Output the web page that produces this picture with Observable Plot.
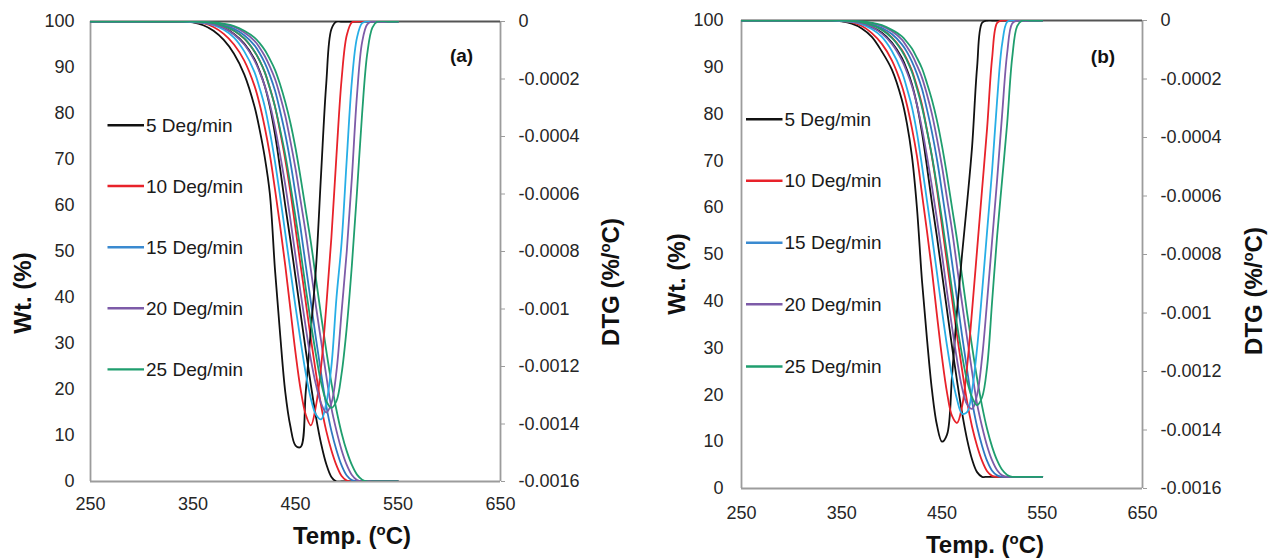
<!DOCTYPE html>
<html><head><meta charset="utf-8">
<script src="https://cdn.jsdelivr.net/npm/d3@7"></script>
<script src="https://cdn.jsdelivr.net/npm/@observablehq/plot@0.6"></script>
<style>
body{margin:0;background:#fff;}
#wrap{display:flex;width:1272px;height:558px;overflow:hidden;}
#wrap > div{width:636px;height:558px;}
</style></head><body><div id="wrap"><div id="pa"></div><div id="pb"></div></div>
<script>
// Temperature grid (°C) shared by all series
const temps = [250,300,340,350,360,370,380,390,400,410,415,420,425,430,435,440,445,450,455,460,465,470,475,480,485,490,495,500,505,510,515,520,525,530,540,550];

const rates = ["5 Deg/min","10 Deg/min","15 Deg/min","20 Deg/min","25 Deg/min"];
const tgColors  = ["#111111","#e8222a","#2f78c0","#7d5ba8","#1f9e6e"];
const dtgColors = ["#111111","#e8222a","#27aee6","#7d5ba8","#1f9e6e"];
const legendColors = ["#111111","#e8222a","#3a8ad0","#7d5ba8","#1f9e6e"];

const xTicks = [250,350,450,550,650];
const wtTicks = [0,10,20,30,40,50,60,70,80,90,100];
const dtgTicks = [0,-0.0002,-0.0004,-0.0006,-0.0008,-0.001,-0.0012,-0.0014,-0.0016];
const dtgUnit = 1e-4; // DTG arrays below are in units of 1e-4 %/°C

// ---- Panel (a) ----
const tgA5  = [100,100,100,99.9,99.7,99.3,98.6,97.3,95.2,91.8,89.2,86,81.5,75.5,68,60,52.5,44.5,36.5,28.5,21,14,8.2,3.8,1.0,0,0,0,0,0,0,0,0,0,0,0];
const tgA10 = [100,100,100,100,99.8,99.5,99,98,96.3,93.5,91.5,89,85.5,81.5,76,70,63,55,47,39,31,23.5,16.5,11,6.8,3.5,1.2,0.2,0,0,0,0,0,0,0,0];
const tgA15 = [100,100,100,100,99.8,99.6,99.2,98.4,97,94.8,93.1,91,88.3,85,80.5,75.5,69.5,62.5,55,47,39,31,23.5,16.5,11,6.8,3.5,1.3,0.3,0,0,0,0,0,0,0];
const tgA20 = [100,100,100,100,99.9,99.7,99.4,98.8,97.6,95.8,94.3,92.5,90.2,87.5,83.8,79.5,74,68,61,54,46,38,30.5,23,16,11,6.8,3.6,1.4,0.3,0,0,0,0,0,0];
const tgA25 = [100,100,100,100,99.9,99.8,99.5,99,98,96.5,95.3,93.8,91.8,89.5,86.3,82.5,78,72.5,66,59,52,44,36,28.5,21.5,15.5,10.5,6.6,3.6,1.5,0.4,0,0,0,0,0];
const dtgA5  = [0,0,0,-0.03,-0.13,-0.32,-0.64,-1.12,-1.84,-2.96,-3.76,-4.72,-6.0,-8.64,-10.88,-12.88,-14.08,-14.75,-14.8,-12.88,-10.72,-8.56,-5.28,-2.16,-0.27,0,0,0,0,0,0,0,0,0,0,0];
const dtgA10 = [0,0,0,-0.02,-0.06,-0.19,-0.43,-0.80,-1.36,-2.24,-2.88,-3.68,-4.64,-5.84,-7.12,-8.48,-10.0,-11.52,-12.8,-13.68,-14.05,-13.36,-12.0,-9.92,-7.52,-4.64,-2.0,-0.48,-0.03,0,0,0,0,0,0,0];
const dtgA15 = [0,0,0,-0.02,-0.05,-0.13,-0.29,-0.56,-1.04,-1.76,-2.32,-2.96,-3.84,-4.88,-6.08,-7.36,-8.64,-9.92,-11.12,-12.24,-13.12,-13.68,-13.84,-13.28,-12.0,-9.6,-7.68,-4.8,-2.08,-0.56,-0.06,0,0,0,0,0];
const dtgA20 = [0,0,0,0,-0.03,-0.10,-0.22,-0.45,-0.80,-1.36,-1.76,-2.24,-2.88,-3.68,-4.64,-5.68,-6.88,-8.16,-9.44,-10.64,-11.76,-12.64,-13.28,-13.6,-13.28,-12.16,-10.08,-8.0,-5.44,-2.56,-0.72,-0.10,0,0,0,0];
const dtgA25 = [0,0,0,0,-0.02,-0.06,-0.16,-0.32,-0.59,-1.04,-1.36,-1.76,-2.32,-2.96,-3.76,-4.64,-5.68,-6.8,-8.0,-9.28,-10.48,-11.6,-12.56,-13.2,-13.44,-13.2,-12.24,-10.64,-8.48,-5.92,-3.2,-1.12,-0.21,0,0,0];

// ---- Panel (b) ----
const tgB5  = [100,100,100,99.9,99.7,99.3,98.6,97.4,95.3,92.0,89.5,86.4,82.0,76.1,68.8,61.0,53.7,45.9,38.1,30.3,23.0,16.2,10.5,6.2,3.5,2.5,2.5,2.5,2.5,2.5,2.5,2.5,2.5,2.5,2.5,2.5];
const tgB10 = [100,100,100,100,99.8,99.5,99.0,98.1,96.4,93.7,91.7,89.3,85.9,82.0,76.6,70.8,63.9,56.1,48.3,40.5,32.7,25.4,18.6,13.2,9.1,5.9,3.7,2.7,2.5,2.5,2.5,2.5,2.5,2.5,2.5,2.5];
const tgB15 = [100,100,100,100,99.8,99.6,99.2,98.4,97.1,94.9,93.3,91.2,88.6,85.4,81.0,76.1,70.3,63.4,56.1,48.3,40.5,32.7,25.4,18.6,13.2,9.1,5.9,3.8,2.8,2.5,2.5,2.5,2.5,2.5,2.5,2.5];
const tgB20 = [100,100,100,100,99.9,99.7,99.4,98.8,97.7,95.9,94.4,92.7,90.4,87.8,84.2,80.0,74.7,68.8,62.0,55.2,47.4,39.6,32.2,24.9,18.1,13.2,9.1,6.0,3.9,2.8,2.5,2.5,2.5,2.5,2.5,2.5];
const tgB25 = [100,100,100,100,99.9,99.8,99.5,99.0,98.0,96.6,95.4,94.0,92.0,89.8,86.6,83.0,78.6,73.2,66.9,60.0,53.2,45.4,37.6,30.3,23.5,17.6,12.7,8.9,6.0,4.0,2.9,2.5,2.5,2.5,2.5,2.5];
const dtgB5  = [0,0,0,-0.03,-0.11,-0.27,-0.56,-1.06,-1.68,-2.72,-3.52,-4.64,-6.4,-8.88,-10.88,-12.64,-13.84,-14.4,-14.16,-12.16,-9.92,-8.0,-6.24,-4.32,-1.6,-0.08,0,0,0,0,0,0,0,0,0,0];
const dtgB10 = [0,0,0,-0.02,-0.06,-0.19,-0.43,-0.80,-1.36,-2.24,-2.88,-3.68,-4.64,-5.92,-7.2,-8.56,-10.08,-11.52,-12.72,-13.52,-13.76,-13.2,-11.84,-9.92,-7.84,-5.76,-3.68,-1.28,-0.08,0,0,0,0,0,0,0];
const dtgB15 = [0,0,0,-0.02,-0.05,-0.13,-0.29,-0.56,-1.04,-1.76,-2.32,-2.96,-3.84,-4.96,-6.16,-7.36,-8.64,-9.92,-11.12,-12.16,-12.96,-13.44,-13.39,-12.64,-11.2,-9.28,-7.2,-5.12,-2.72,-0.8,-0.05,0,0,0,0,0];
const dtgB20 = [0,0,0,0,-0.03,-0.10,-0.22,-0.45,-0.80,-1.36,-1.76,-2.24,-2.88,-3.68,-4.64,-5.68,-6.8,-8.0,-9.28,-10.48,-11.6,-12.56,-13.12,-13.28,-12.8,-11.52,-9.6,-7.52,-5.44,-3.2,-1.12,-0.10,0,0,0,0];
const dtgB25 = [0,0,0,0,-0.02,-0.06,-0.16,-0.32,-0.59,-1.04,-1.36,-1.76,-2.32,-2.96,-3.76,-4.64,-5.68,-6.8,-8.0,-9.2,-10.4,-11.44,-12.32,-12.88,-13.15,-12.88,-11.84,-9.6,-7.36,-5.44,-3.52,-1.28,-0.19,0,0,0];

const FONT = "'Liberation Sans', Arial, Helvetica, sans-serif";
const dtgMin = dtgTicks[dtgTicks.length - 1];
const toW = d => 100 * (1 - d / dtgMin);          // DTG value -> position on the Wt scale
const fromW = w => dtgMin * (1 - w / 100);

function addTitle(svg, x, y, rot, pre, sup, post) {
  const t = svg.append("text")
    .attr("transform", `translate(${x},${y}) rotate(${rot})`)
    .attr("text-anchor", "middle").attr("dy", "0.35em")
    .attr("font-family", FONT).attr("font-weight", "bold")
    .attr("font-size", 24).attr("fill", "#111");
  t.append("tspan").text(pre);
  if (sup) {
    t.append("tspan").attr("font-size", 15).attr("dy", -9).text(sup);
    t.append("tspan").attr("dy", 9).text(post);
  }
}

function panel(cfg) {
  const marks = [
    Plot.ruleX([250], {stroke: "#9c9c9c", strokeWidth: 1.8}),
    Plot.ruleX([650], {stroke: "#9c9c9c", strokeWidth: 1.8}),
    Plot.ruleY([0], {stroke: "#9c9c9c", strokeWidth: 1.8}),
    Plot.ruleY([100], {stroke: "#555555", strokeWidth: 1.8}),
    Plot.axisX({ticks: xTicks, tickSize: 0, tickPadding: cfg.padX, label: null, fill: "#262626"}),
    Plot.axisY({anchor: "left", ticks: wtTicks, tickSize: 0, tickPadding: cfg.padL, label: null, fill: "#262626"}),
    Plot.axisY({anchor: "right", ticks: dtgTicks.map(toW), tickSize: 4, tickPadding: 14, label: null,
      stroke: "#9c9c9c", fill: "#262626",
      tickFormat: w => { const d = fromW(w); return Math.abs(d) < 1e-12 ? "0" : String(parseFloat(d.toFixed(4))); }})
  ];
  cfg.tg.forEach((vals, k) => {
    marks.push(Plot.line(temps.map((t, i) => ({t, w: vals[i]})),
      {x: "t", y: "w", stroke: tgColors[k], strokeWidth: 1.8, curve: "catmull-rom", clip: true}));
  });
  cfg.dtg.forEach((vals, k) => {
    marks.push(Plot.line(temps.map((t, i) => ({t, w: toW(vals[i] * dtgUnit)})),
      {x: "t", y: "w", stroke: dtgColors[k], strokeWidth: 1.8, curve: "catmull-rom", clip: true}));
  });
  const chart = Plot.plot({
    width: 636, height: 558,
    marginLeft: cfg.ml, marginRight: cfg.mr, marginTop: cfg.mt, marginBottom: cfg.mb,
    x: {domain: [250, 650]},
    y: {domain: [0, 100]},
    style: {fontFamily: FONT, fontSize: "18px", background: "#fff", color: "#262626"},
    marks
  });
  const svg = d3.select(chart);
  // legend
  const lg = svg.append("g").attr("font-family", FONT).attr("font-size", 19).attr("fill", "#1a1a1a")
    .attr("text-anchor", "start");
  rates.forEach((r, k) => {
    lg.append("line").attr("x1", cfg.lx1).attr("x2", cfg.lx2).attr("y1", cfg.ly[k]).attr("y2", cfg.ly[k])
      .attr("stroke", legendColors[k]).attr("stroke-width", 2.4);
    lg.append("text").attr("x", cfg.tx).attr("y", cfg.ly[k]).attr("dy", "0.35em")
      .attr("text-anchor", "start").text(r);
  });
  // panel letter
  svg.append("text").attr("x", cfg.letter[0]).attr("y", cfg.letter[1]).attr("dy", "0.35em")
    .attr("text-anchor", "middle").attr("font-family", FONT).attr("font-weight", "bold")
    .attr("font-size", 19).attr("fill", "#111").text(cfg.letter[2]);
  addTitle(svg, cfg.wt[0], cfg.wt[1], -90, "Wt. (%)");
  addTitle(svg, cfg.dt[0], cfg.dt[1], -90, "DTG (%/", "o", "C)");
  addTitle(svg, cfg.te[0], cfg.te[1], 0, "Temp. (", "o", "C)");
  document.getElementById(cfg.el).appendChild(chart);
}

panel({el: "pa", tg: [tgA5, tgA10, tgA15, tgA20, tgA25], dtg: [dtgA5, dtgA10, dtgA15, dtgA20, dtgA25],
  ml: 90, mr: 136, mt: 21, mb: 77, padX: 16, padL: 16,
  lx1: 107.5, lx2: 144, tx: 146, ly: [125.3, 186, 247.3, 308.2, 369.4],
  letter: [461.5, 55, "(a)"], wt: [22.5, 293], dt: [611, 282], te: [352, 536]});

panel({el: "pb", tg: [tgB5, tgB10, tgB15, tgB20, tgB25], dtg: [dtgB5, dtgB10, dtgB15, dtgB20, dtgB25],
  ml: 105, mr: 130, mt: 20, mb: 70, padX: 18, padL: 18,
  lx1: 110, lx2: 146.5, tx: 148.5, ly: [119.2, 180.8, 242.7, 304.3, 366.5],
  letter: [467, 56, "(b)"], wt: [40.5, 274], dt: [618, 291], te: [349, 545]});
</script>
</body></html>
